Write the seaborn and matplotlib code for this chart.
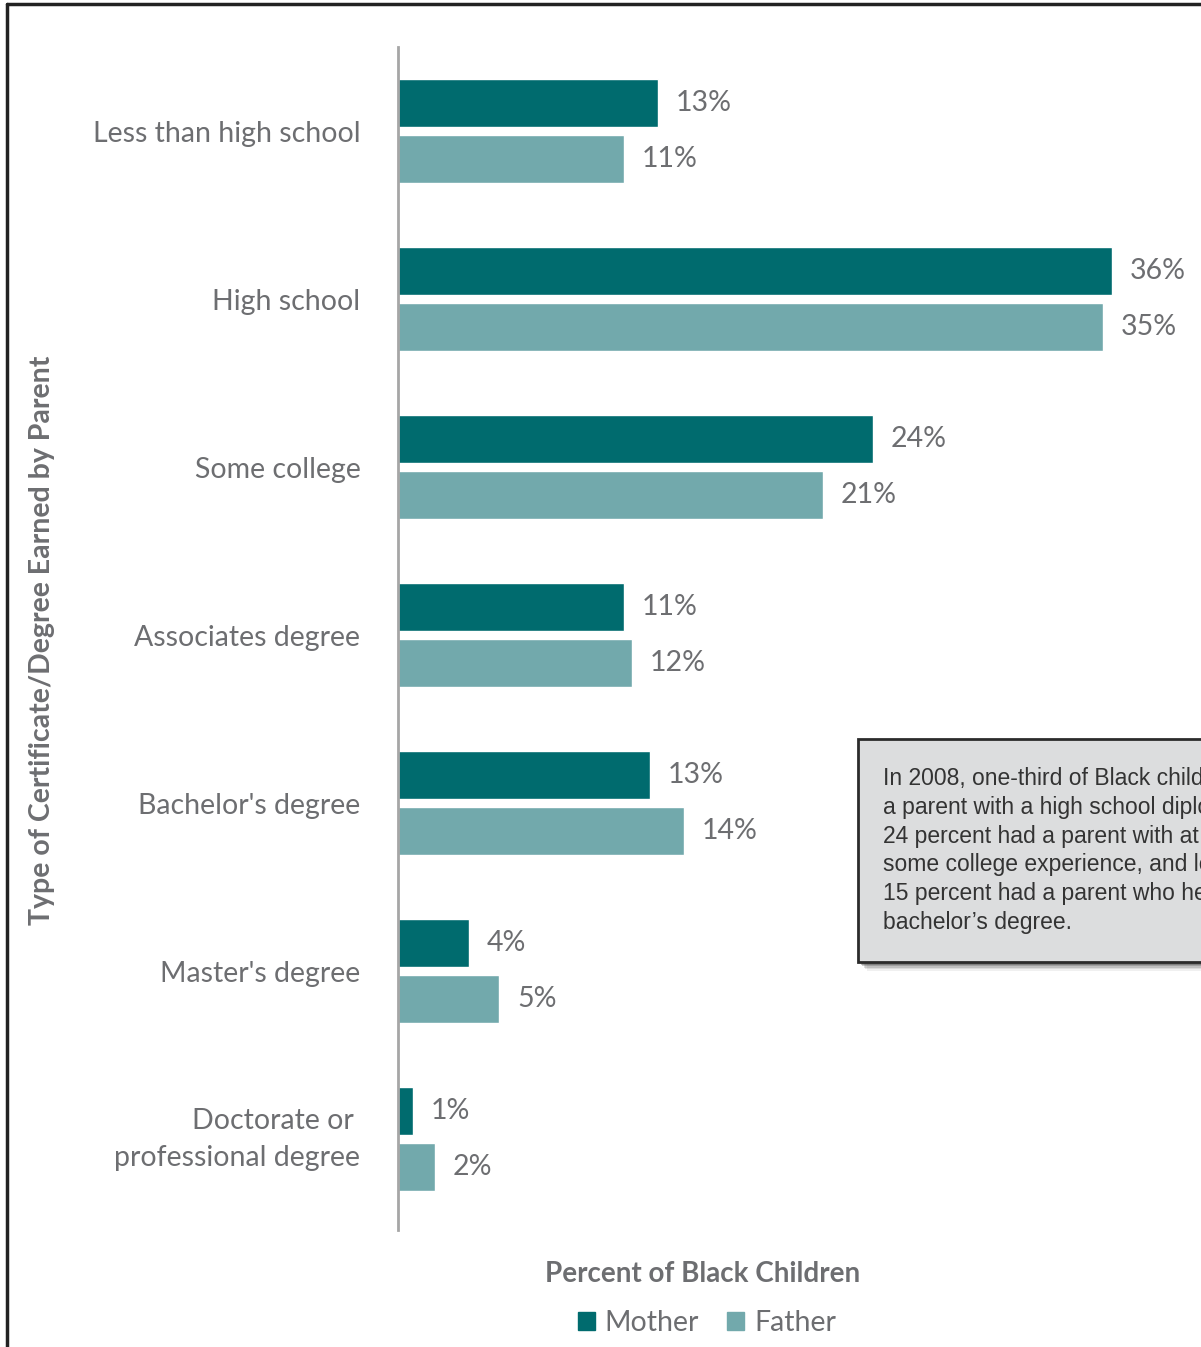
"""Parent education of Black children, 2008: mother vs father."""

import matplotlib.pyplot as plt
import pandas as pd
import seaborn as sns
from matplotlib.lines import Line2D
from matplotlib.patches import Rectangle

categories = [
    "Less than high school",
    "High school",
    "Some college",
    "Associates degree",
    "Bachelor's degree",
    "Master's degree",
    "Doctorate or \nprofessional degree",
]
mother = [13.0, 35.7, 23.75, 11.3, 12.6, 3.55, 0.75]
father = [11.3, 35.25, 21.25, 11.7, 14.3, 5.05, 1.85]
series = ["Mother", "Father"]

note = (
    "In 2008, one-third of Black children had\n"
    "a parent with a high school diploma,\n"
    "24 percent had a parent with at least\n"
    "some college experience, and less than\n"
    "15 percent had a parent who held a\n"
    "bachelor\u2019s degree."
)

GRAY = "#6D6E71"
PALETTE = {"Mother": "#006B6E", "Father": "#72A9AC"}
W, H = 1201, 1347

df = pd.DataFrame({
    "category": categories * 2,
    "parent": [series[0]] * len(categories) + [series[1]] * len(categories),
    "pct": mother + father,
})

sns.set_theme(style="white")
plt.rcParams["font.family"] = ["Lato", "DejaVu Sans"]

fig = plt.figure(figsize=(W / 100, H / 100), dpi=100)
ax = fig.add_axes([398 / W, 1 - 1230 / H, 1 - 398 / W, (1230 - 47) / H])

sns.barplot(
    data=df, y="category", x="pct", hue="parent", order=categories,
    hue_order=series, palette=PALETTE, orient="h", width=0.667, gap=0.14,
    saturation=1, legend=False, ax=ax,
)

for cont in ax.containers:
    vals = cont.datavalues
    ax.bar_label(cont, labels=[f"{v:.0f}%" for v in vals], padding=13,
                 fontsize=20.5, color=GRAY)

ax.set_xlim(0, (W - 398) / 20)
ax.set_ylim(len(categories) - 0.46, -0.5)
ax.set_xlabel("")
ax.set_ylabel("")
ax.set_xticks([])
ax.tick_params(axis="y", length=0, pad=27, labelsize=20.5, labelcolor=GRAY)
for lbl in ax.get_yticklabels():
    lbl.set_horizontalalignment("right")
    if "\n" in lbl.get_text():
        lbl.set_linespacing(1.5)
        lbl.set_verticalalignment("center")
for side in ["top", "right", "bottom"]:
    ax.spines[side].set_visible(False)
ax.spines["left"].set_color("#A6A6A6")
ax.spines["left"].set_linewidth(2)

fig.text(42 / W, 1 - 640 / H, "Type of Certificate/Degree Earned by Parent",
         rotation=90, ha="center", va="center", fontsize=20.5,
         fontweight="bold", color=GRAY)
fig.text(703 / W, 1 - 1274 / H, "Percent of Black Children", ha="center",
         va="center", fontsize=20, fontweight="bold", color=GRAY)

handles = [Rectangle((0, 0), 1, 1, color=PALETTE[s]) for s in series]
fig.legend(handles, series, loc="center", ncol=2,
           bbox_to_anchor=(707 / W, 1 - 1323 / H), frameon=False,
           fontsize=20.5, labelcolor=GRAY, handlelength=0.58,
           handleheight=0.58, handletextpad=0.35, columnspacing=1.0)

# note box with soft shadow
for i, a in enumerate([0.08, 0.12, 0.18, 0.26, 0.34]):
    off = 9 - 1.6 * i
    fig.patches.append(Rectangle(((858 + off) / W, 1 - (962 + off) / H),
                                 400 / W, 223 / H, transform=fig.transFigure,
                                 color="#444444", alpha=a, linewidth=0,
                                 zorder=1))
fig.patches.append(Rectangle((858 / W, 1 - 962 / H), 400 / W, 223 / H,
                             transform=fig.transFigure, facecolor="#DCDDDE",
                             edgecolor="#2B2B2B", linewidth=2, zorder=2))
fig.text(883 / W, 1 - 767 / H, note, ha="left", va="top", fontsize=16.5,
         family=["Liberation Sans", "DejaVu Sans"], color="#333333",
         linespacing=1.32, zorder=3)

# page frame
fig.add_artist(Line2D([7 / W, 7 / W], [0, 1 - 4 / H], color="#222222",
                      linewidth=2.5, transform=fig.transFigure))
fig.add_artist(Line2D([7 / W, 1], [1 - 4 / H, 1 - 4 / H], color="#222222",
                      linewidth=2.5, transform=fig.transFigure))

fig.savefig("out.png", dpi=100)
